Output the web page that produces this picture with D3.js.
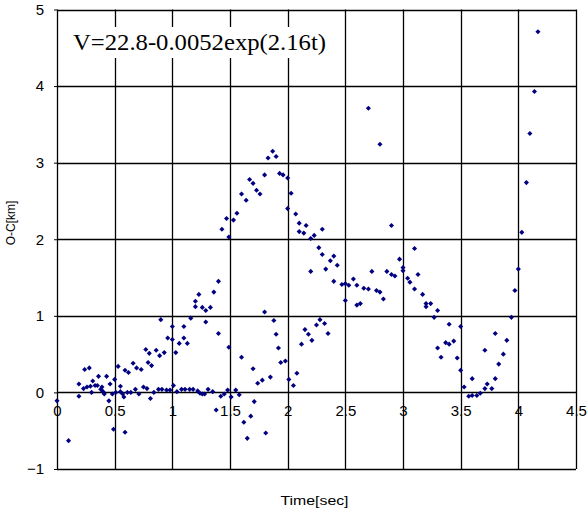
<!DOCTYPE html>
<html>
<head>
<meta charset="utf-8">
<script src="https://cdn.jsdelivr.net/npm/d3@7"></script>
<style>
  body { margin: 0; background: #fff; }
  svg { display: block; }
</style>
</head>
<body>
<div id="chart"></div>
<script>
// time [sec] and O-C [km]
var timeSec = [
  0.00, 0.10, 0.19, 0.19, 0.23, 0.24, 0.26, 0.28, 0.29, 0.30,
  0.31, 0.33, 0.35, 0.36, 0.38, 0.39, 0.40, 0.41, 0.43, 0.45,
  0.46, 0.48, 0.49, 0.50, 0.51, 0.53, 0.55, 0.55, 0.57, 0.58,
  0.59, 0.59, 0.61, 0.62, 0.64, 0.66, 0.68, 0.69, 0.71, 0.73,
  0.75, 0.77, 0.78, 0.79, 0.80, 0.81, 0.82, 0.84, 0.86, 0.88,
  0.89, 0.90, 0.91, 0.93, 0.95, 0.96, 0.98, 1.00, 1.00, 1.01,
  1.03, 1.04, 1.06, 1.08, 1.10, 1.10, 1.11, 1.13, 1.15, 1.16,
  1.18, 1.20, 1.20, 1.22, 1.23, 1.24, 1.26, 1.26, 1.28, 1.29,
  1.29, 1.31, 1.33, 1.35, 1.36, 1.38, 1.40, 1.40, 1.42, 1.43,
  1.45, 1.47, 1.48, 1.49, 1.49, 1.51, 1.53, 1.55, 1.56, 1.58,
  1.60, 1.60, 1.62, 1.64, 1.65, 1.67, 1.68, 1.70, 1.70, 1.71,
  1.73, 1.74, 1.76, 1.78, 1.80, 1.80, 1.81, 1.83, 1.85, 1.87,
  1.88, 1.90, 1.90, 1.92, 1.93, 1.94, 1.96, 1.98, 2.00, 2.00,
  2.01, 2.03, 2.05, 2.07, 2.08, 2.10, 2.10, 2.12, 2.14, 2.15,
  2.16, 2.18, 2.20, 2.20, 2.21, 2.23, 2.25, 2.27, 2.28, 2.30,
  2.30, 2.32, 2.33, 2.35, 2.37, 2.40, 2.40, 2.43, 2.47, 2.50,
  2.50, 2.53, 2.57, 2.60, 2.60, 2.63, 2.66, 2.70, 2.70, 2.73,
  2.77, 2.80, 2.80, 2.83, 2.86, 2.90, 2.90, 2.93, 2.97, 3.00,
  3.00, 3.04, 3.06, 3.10, 3.10, 3.13, 3.17, 3.20, 3.20, 3.24,
  3.27, 3.30, 3.30, 3.33, 3.37, 3.40, 3.40, 3.44, 3.47, 3.50,
  3.50, 3.53, 3.57, 3.60, 3.60, 3.64, 3.67, 3.71, 3.71, 3.73,
  3.77, 3.80, 3.80, 3.83, 3.87, 3.90, 3.94, 3.97, 4.00, 4.03,
  4.07, 4.10, 4.14, 4.17
];
var ocKm = [
  -0.11, -0.63, 0.11, -0.05, 0.05, 0.30, 0.07, 0.32, 0.08, 0.00,
  0.15, 0.09, 0.09, 0.21, 0.04, 0.07, 0.01, -0.02, 0.21, -0.11,
  0.11, -0.02, -0.48, 0.17, 0.00, 0.34, 0.08, 0.01, -0.02, -0.06,
  0.29, -0.52, 0.00, 0.26, 0.00, 0.38, 0.04, 0.32, -0.02, 0.30,
  0.07, 0.56, 0.05, 0.39, 0.51, -0.08, 0.35, 0.00, 0.55, 0.04,
  0.48, 0.95, 0.04, 0.52, 0.03, 0.71, 0.03, 0.86, 0.69, 0.09,
  0.52, 0.01, 0.64, 0.04, 0.86, 0.71, 0.04, 0.64, 0.04, 0.97,
  0.04, 1.19, 1.12, 0.02, 1.28, -0.01, 1.11, -0.02, -0.02, 1.07,
  0.92, 0.04, 1.11, 0.01, 1.31, -0.23, 1.45, 0.77, -0.05, 2.13,
  -0.02, 2.27, 0.03, 2.03, 0.59, -0.06, 2.25, 0.03, 2.34, -0.03,
  2.59, 0.46, -0.39, 2.51, -0.60, 2.78, -0.31, 2.73, 0.31, -0.12,
  2.64, 0.12, 2.59, 0.16, 2.84, 1.05, -0.53, 3.06, 0.20, 3.15,
  0.94, 3.08, 0.76, 0.58, 2.86, 0.39, 2.84, 0.41, 2.80, 2.40,
  0.17, 2.60, 0.09, 2.33, 0.25, 2.21, 2.10, 0.63, 2.08, 0.82,
  2.18, 0.76, 2.01, 1.58, 0.68, 2.05, 0.88, 1.89, 0.95, 2.13,
  1.80, 0.90, 1.61, 0.77, 1.72, 1.78, 1.45, 1.66, 1.41, 1.42,
  1.20, 1.40, 1.48, 1.40, 1.14, 1.16, 1.36, 1.35, 3.71, 1.58,
  1.33, 1.31, 3.24, 1.22, 1.58, 2.18, 1.54, 1.52, 1.74, 1.63,
  1.59, 1.49, 1.44, 1.88, 1.35, 1.54, 1.28, 1.16, 1.12, 1.16,
  0.98, 1.07, 0.58, 0.46, 0.65, 0.89, 0.63, 0.67, 0.45, 0.86,
  0.29, 0.07, -0.05, 0.18, -0.04, -0.04, -0.01, 0.55, 0.05, 0.11,
  0.05, 0.77, 0.18, 0.37, 0.50, 0.68, 0.98, 1.33, 1.61, 2.09,
  2.74, 3.38, 3.93, 4.71
];
var xTicks = [0, 0.5, 1, 1.5, 2, 2.5, 3, 3.5, 4, 4.5];
var yTicks = [-1, 0, 1, 2, 3, 4, 5];
var equationText = "V=22.8-0.0052exp(2.16t)";

var data = timeSec.map(function(t, i) { return { t: t, v: ocKm[i] }; });

var width = 588, height = 512;
var margin = { top: 9.5, right: 12, bottom: 43, left: 57 };

var svg = d3.select("#chart")
  .append("svg")
  .attr("width", width)
  .attr("height", height);

var x = d3.scaleLinear()
  .domain([0, 4.5])
  .range([margin.left, width - margin.right]);

var y = d3.scaleLinear()
  .domain([-1, 5])
  .range([height - margin.bottom, margin.top]);

// y axis on the left
var yAxis = d3.axisLeft(y)
  .tickValues(yTicks)
  .tickFormat(d3.format(""))
  .tickSize(3)
  .tickPadding(10);

var gy = svg.append("g")
  .attr("transform", "translate(" + margin.left + ",0)")
  .call(yAxis);
gy.select(".domain").remove();
gy.selectAll("line").attr("stroke", "#000");
gy.selectAll("text")
  .style("font-family", "Liberation Sans, Arial, sans-serif")
  .style("font-size", "15px")
  .attr("fill", "#000");

// x axis crosses at O-C = 0
var xAxis = d3.axisBottom(x)
  .tickValues(xTicks)
  .tickFormat(d3.format(""))
  .tickSize(0)
  .tickPadding(13);

var gx = svg.append("g")
  .attr("transform", "translate(0," + y(0) + ")")
  .call(xAxis);
gx.select(".domain").remove();
gx.selectAll("text")
  .style("font-family", "Liberation Sans, Arial, sans-serif")
  .style("font-size", "15px")
  .attr("fill", "#000");

// grid lines
svg.selectAll("line.x-grid")
  .data(xTicks)
  .enter()
  .append("line")
  .attr("class", "x-grid")
  .attr("x1", function(d) { return Math.round(x(d)) + 0.5; })
  .attr("x2", function(d) { return Math.round(x(d)) + 0.5; })
  .attr("y1", y(5))
  .attr("y2", y(-1))
  .style("stroke", "#000")
  .style("stroke-width", 1.3);

svg.selectAll("line.y-grid")
  .data(yTicks)
  .enter()
  .append("line")
  .attr("class", "y-grid")
  .attr("x1", x(0))
  .attr("x2", x(4.5))
  .attr("y1", function(d) { return Math.round(y(d)) + 0.5; })
  .attr("y2", function(d) { return Math.round(y(d)) + 0.5; })
  .style("stroke", "#000")
  .style("stroke-width", 1.3);

// equation label with white box
svg.append("rect")
  .attr("x", 66)
  .attr("y", 27)
  .attr("width", 268)
  .attr("height", 31)
  .attr("fill", "#fff");

svg.append("text")
  .attr("x", 73)
  .attr("y", 50)
  .attr("textLength", 253)
  .attr("lengthAdjust", "spacingAndGlyphs")
  .style("font-family", "Liberation Serif, serif")
  .style("font-size", "23px")
  .attr("fill", "#000")
  .text(equationText);

// axis titles
svg.append("text")
  .attr("x", x(2.25) - 2)
  .attr("y", 505)
  .style("text-anchor", "middle")
  .style("font-family", "Liberation Sans, Arial, sans-serif")
  .style("font-size", "13px")
  .attr("textLength", 68)
  .attr("lengthAdjust", "spacingAndGlyphs")
  .text("Time[sec]");

svg.append("text")
  .attr("transform", "rotate(-90)")
  .attr("x", -223)
  .attr("y", 15)
  .style("text-anchor", "middle")
  .style("font-family", "Liberation Sans, Arial, sans-serif")
  .style("font-size", "12px")
  .text("O-C[km]");

// points
svg.selectAll("path.pt")
  .data(data)
  .enter()
  .append("path")
  .attr("class", "pt")
  .attr("d", d3.symbol().type(d3.symbolSquare).size(13))
  .attr("transform", function(d) {
    return "translate(" + x(d.t) + "," + y(d.v) + ") rotate(45)";
  })
  .style("fill", "#000080");
</script>
</body>
</html>
